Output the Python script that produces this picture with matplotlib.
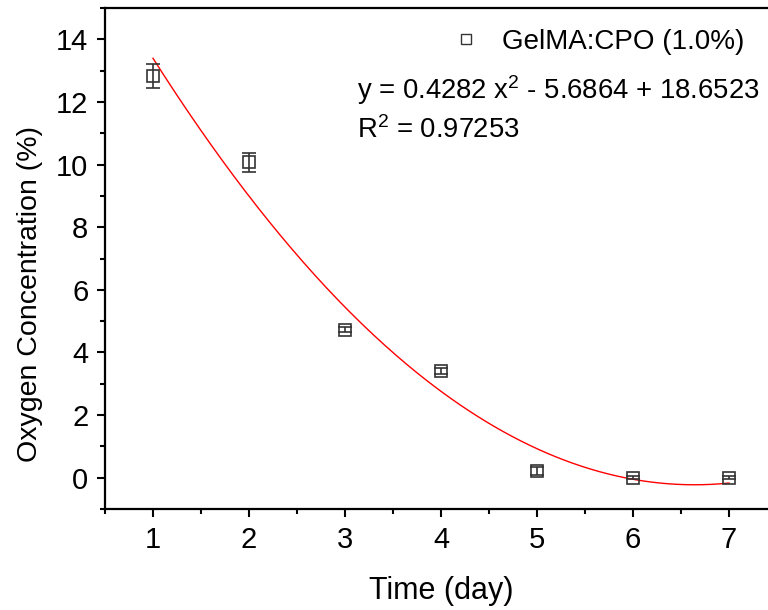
import numpy as np
import matplotlib
matplotlib.use("Agg")
import matplotlib.pyplot as plt
from matplotlib.lines import Line2D
from matplotlib.ticker import MultipleLocator

plt.rcParams['font.family'] = ['Liberation Sans', 'DejaVu Sans']
plt.rcParams['mathtext.default'] = 'regular'

# measured oxygen concentration
days = [1, 2, 3, 4, 5, 6, 7]
oxygen = [12.82, 10.07, 4.73, 3.41, 0.21, 0.0, 0.0]
oxygen_err = [0.38, 0.3, 0.08, 0.1, 0.12, 0.05, 0.05]

# quadratic fit reported on the chart: a*x^2 + b*x + c
fit_coef = [0.4282, -5.6864, 18.6523]
r2 = 0.97253
series_name = 'GelMA:CPO (1.0%)'

fig = plt.figure(figsize=(7.68, 6.10), dpi=100)
ax = fig.add_axes([105/768, 101/610, 672/768, 501/610])

xfit = np.linspace(days[0], days[-1], 200)
ax.plot(xfit, np.polyval(fit_coef, xfit), color='red', lw=1.0, zorder=2)

ax.errorbar(days, oxygen, yerr=oxygen_err, fmt='s', ms=8, mfc='none',
            mec='#333333', mew=1.2, ecolor='#333333', elinewidth=1.2,
            capsize=5, capthick=1.2, zorder=3)

ax.set_xlim(0.5, 7.5)
ax.set_ylim(-1, 15)
ax.xaxis.set_major_locator(MultipleLocator(1))
ax.xaxis.set_minor_locator(MultipleLocator(0.5))
ax.yaxis.set_major_locator(MultipleLocator(2))
ax.yaxis.set_minor_locator(MultipleLocator(1))
ax.set_yticks(range(0, 15, 2))
ax.tick_params(which='major', direction='out', length=6, width=1.5,
               labelsize=21, pad=6)
ax.tick_params(which='minor', direction='out', length=3.5, width=1.5)
for s in ax.spines.values():
    s.set_linewidth(1.6)

ax.set_xlabel('Time (day)', fontsize=22, labelpad=16)
ax.set_ylabel('Oxygen Concentration (%)', fontsize=20.5,
              ha='center', va='center')
ax.yaxis.set_label_coords(-0.112, 0.43)

handle = Line2D([], [], marker='s', ls='none', ms=7, mfc='none',
                mec='#333333', mew=1.0)
ax.legend([handle], [series_name], loc='center left',
          bbox_to_anchor=(438/768, 568/610), bbox_transform=fig.transFigure,
          frameon=False, fontsize=20, handletextpad=0.8, borderpad=0,
          handlelength=1.0)

ax.text(357/768, 520/610, 'y = %.4f x$^2$ - %.4f + %.4f'
        % (fit_coef[0], -fit_coef[1], fit_coef[2]),
        transform=fig.transFigure, fontsize=19.8, va='center', ha='left')
ax.text(357/768, 480/610, 'R$^2$ = %.5f' % r2,
        transform=fig.transFigure, fontsize=19.8, va='center', ha='left')

fig.savefig('out.png', dpi=100)
